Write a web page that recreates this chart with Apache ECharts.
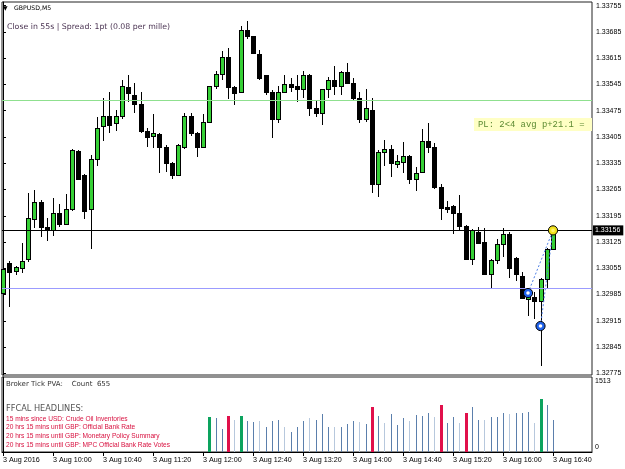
<!DOCTYPE html>
<html>
<head>
<meta charset="utf-8">
<title>GBPUSD,M5</title>
<script src="https://cdn.jsdelivr.net/npm/echarts@6/dist/echarts.min.js"></script>
<style>
  html, body { margin: 0; padding: 0; background: #fff; }
  #chart { width: 625px; height: 469px; }
</style>
</head>
<body>
<div id="chart"></div>
<script>
// GBPUSD M5, 3 Aug 2016, 09:20 .. 16:40 (one candle every 5 min, index 0..88)
const openP = [
  1.32989, 1.33069, 1.33047, 1.33055, 1.33079, 1.33186, 1.33231, 1.33164, 1.33156, 1.33202,
  1.33172, 1.33212, 1.33367, 1.33303, 1.33212, 1.33345, 1.33433, 1.33460, 1.33441, 1.33460,
  1.33537, 1.33518, 1.33492, 1.33422, 1.33407, 1.33412, 1.33377, 1.33335, 1.33303, 1.33377,
  1.33460, 1.33415, 1.33377, 1.33444, 1.33540, 1.33574, 1.33619, 1.33537, 1.33524, 1.33691,
  1.33673, 1.33627, 1.33569, 1.33526, 1.33454, 1.33526, 1.33545, 1.33540, 1.33534, 1.33571,
  1.33481, 1.33470, 1.33532, 1.33558, 1.33540, 1.33579, 1.33550, 1.33510, 1.33454, 1.33478,
  1.33279, 1.33364, 1.33372, 1.33332, 1.33337, 1.33353, 1.33292, 1.33311, 1.33393, 1.33377,
  1.33271, 1.33218, 1.33220, 1.33202, 1.33167, 1.33079, 1.33153, 1.33125, 1.33039, 1.33077,
  1.33119, 1.33146, 1.33082, 1.33034, 1.32973, 1.32978, 1.32968, 1.33026, 1.33106
]
const highP = [
  1.33055, 1.33074, 1.33061, 1.33122, 1.33255, 1.33263, 1.33236, 1.33189, 1.33242, 1.33226,
  1.33252, 1.33372, 1.33369, 1.33305, 1.33356, 1.33457, 1.33508, 1.33526, 1.33478, 1.33558,
  1.33571, 1.33548, 1.33524, 1.33430, 1.33465, 1.33415, 1.33383, 1.33337, 1.33385, 1.33470,
  1.33470, 1.33417, 1.33465, 1.33542, 1.33582, 1.33633, 1.33641, 1.33542, 1.33702, 1.33715,
  1.33675, 1.33638, 1.33571, 1.33529, 1.33542, 1.33571, 1.33563, 1.33571, 1.33582, 1.33574,
  1.33502, 1.33534, 1.33566, 1.33593, 1.33582, 1.33603, 1.33561, 1.33526, 1.33534, 1.33508,
  1.33369, 1.33396, 1.33383, 1.33356, 1.33391, 1.33356, 1.33324, 1.33425, 1.33441, 1.33388,
  1.33279, 1.33234, 1.33223, 1.33250, 1.33170, 1.33159, 1.33164, 1.33162, 1.33079, 1.33133,
  1.33162, 1.33151, 1.33085, 1.33045, 1.33002, 1.32992, 1.33029, 1.33109, 1.33159
]
const lowP = [
  1.32976, 1.32952, 1.33037, 1.33042, 1.33071, 1.33162, 1.33138, 1.33127, 1.33141, 1.33164,
  1.33170, 1.33209, 1.33289, 1.33186, 1.33106, 1.33327, 1.33393, 1.33415, 1.33420, 1.33452,
  1.33497, 1.33468, 1.33415, 1.33377, 1.33375, 1.33308, 1.33311, 1.33292, 1.33300, 1.33372,
  1.33407, 1.33351, 1.33375, 1.33441, 1.33534, 1.33558, 1.33505, 1.33489, 1.33521, 1.33665,
  1.33627, 1.33558, 1.33518, 1.33401, 1.33441, 1.33524, 1.33526, 1.33497, 1.33508, 1.33460,
  1.33457, 1.33438, 1.33510, 1.33516, 1.33516, 1.33548, 1.33500, 1.33441, 1.33444, 1.33255,
  1.33244, 1.33327, 1.33297, 1.33321, 1.33308, 1.33279, 1.33260, 1.33308, 1.33361, 1.33266,
  1.33183, 1.33202, 1.33146, 1.33156, 1.33077, 1.33063, 1.33119, 1.33037, 1.33002, 1.33066,
  1.33085, 1.33029, 1.33021, 1.32973, 1.32928, 1.32920, 1.32795, 1.33002, 1.33103
]
const closeP = [
  1.33053, 1.33045, 1.33058, 1.33074, 1.33189, 1.33231, 1.33164, 1.33156, 1.33202, 1.33172,
  1.33212, 1.33369, 1.33292, 1.33207, 1.33345, 1.33430, 1.33462, 1.33438, 1.33460, 1.33540,
  1.33521, 1.33492, 1.33422, 1.33404, 1.33415, 1.33377, 1.33335, 1.33303, 1.33383, 1.33460,
  1.33415, 1.33377, 1.33444, 1.33540, 1.33574, 1.33617, 1.33537, 1.33521, 1.33691, 1.33673,
  1.33630, 1.33561, 1.33526, 1.33454, 1.33526, 1.33545, 1.33537, 1.33534, 1.33571, 1.33481,
  1.33470, 1.33532, 1.33558, 1.33540, 1.33579, 1.33550, 1.33510, 1.33454, 1.33481, 1.33279,
  1.33364, 1.33372, 1.33335, 1.33340, 1.33353, 1.33292, 1.33308, 1.33393, 1.33377, 1.33271,
  1.33215, 1.33212, 1.33202, 1.33167, 1.33079, 1.33156, 1.33122, 1.33039, 1.33077, 1.33119,
  1.33146, 1.33055, 1.33039, 1.32976, 1.32989, 1.32968, 1.33026, 1.33106, 1.33156
]

// Broker Tick PVA only fills the last bars (from candle 33 on)
const volStart = 33
const volumes = [
  706, 686, 464, 726, 645, 726, 625, 605, 625, 504,
  625, 645, 504, 403, 504, 625, 686, 645, 766, 504,
  504, 504, 565, 625, 605, 565, 908, 726, 585, 766,
  545, 686, 625, 746, 726, 787, 706, 948, 585, 706,
  585, 787, 908, 645, 645, 706, 706, 787, 766, 787,
  787, 807, 585, 1069, 948, 645
]
const climaxUp = [33, 38, 86]
const climaxDown = [36, 59, 70, 74]
const volMax = 1513

const priceTicks = [1.33755, 1.33685, 1.33615, 1.33545, 1.33475, 1.33405, 1.33335,
  1.33265, 1.33195, 1.33125, 1.33055, 1.32985, 1.32915, 1.32845, 1.32775]
const timeTickIdx = [0, 8, 16, 24, 32, 40, 48, 56, 64, 72, 80, 88]
const timeTickLabels = ['3 Aug 2016', '3 Aug 10:00', '3 Aug 10:40', '3 Aug 11:20', '3 Aug 12:00',
  '3 Aug 12:40', '3 Aug 13:20', '3 Aug 14:00', '3 Aug 14:40', '3 Aug 15:20', '3 Aug 16:00', '3 Aug 16:40']

const lastPrice = 1.33156
const greenLevel = 1.33502
const blueLevel = 1.33002
// pattern points (two blue pivots and the yellow current point)
const pivots = [[84, 1.32989], [86, 1.32901]]
const target = [88, 1.33156]

const headlines = [
  '15 mins since USD: Crude Oil Inventories',
  '20 hrs 15 mins until GBP: Official Bank Rate',
  '20 hrs 15 mins until GBP: Monetary Policy Summary',
  '20 hrs 15 mins until GBP: MPC Official Bank Rate Votes'
]

const SANS = '"Liberation Sans", Arial, sans-serif'
const WIDE = '"DejaVu Sans", Verdana, sans-serif'
const MONO = '"Liberation Mono", "DejaVu Sans Mono", monospace'

// 6.25 px per bar, first bar centred at x=3, plot area 2..592
const X_MIN = -0.16
const X_MAX = X_MIN + 590 / 6.25

const candleData = openP.map((o, i) => [i, o, closeP[i], lowP[i], highP[i]])
const volData = volumes.map((v, k) => {
  const i = volStart + k
  const kind = climaxUp.includes(i) ? 1 : (climaxDown.includes(i) ? -1 : 0)
  return [i, v, kind]
})

const chart = echarts.init(document.getElementById('chart'))

const levelLine = (value, color) => ({
  yAxis: value,
  lineStyle: { color, width: 1, type: 'solid' },
  label: { show: false }
})

const option = {
  animation: false,
  backgroundColor: '#fff',
  grid: [
    { left: 2, right: 33, top: 2, height: 373, show: true, borderColor: '#222', borderWidth: 1, backgroundColor: 'transparent' },
    { left: 2, right: 33, top: 377, height: 75, show: true, borderColor: '#222', borderWidth: 1, backgroundColor: 'transparent' }
  ],
  xAxis: [
    { type: 'value', gridIndex: 0, min: X_MIN, max: X_MAX, show: false },
    {
      type: 'value', gridIndex: 1, min: X_MIN, max: X_MAX,
      axisLine: { show: true, lineStyle: { color: '#000' } },
      splitLine: { show: false },
      axisTick: { show: true, customValues: timeTickIdx, length: 4, lineStyle: { color: '#000' } },
      axisLabel: {
        customValues: timeTickIdx,
        formatter: v => timeTickLabels[timeTickIdx.indexOf(v)] || '',
        align: 'left', margin: 5, fontSize: 7.2, fontFamily: SANS, color: '#000'
      }
    }
  ],
  yAxis: [
    {
      type: 'value', gridIndex: 0, position: 'right', min: 1.327705, max: 1.337648,
      axisLine: { show: true, lineStyle: { color: '#000' } },
      splitLine: { show: false },
      axisTick: { show: true, customValues: priceTicks, length: 3, lineStyle: { color: '#000' } },
      axisLabel: {
        customValues: priceTicks,
        formatter: v => v.toFixed(5),
        margin: 4, fontSize: 7, fontFamily: SANS, color: '#000'
      }
    },
    {
      type: 'value', gridIndex: 1, position: 'right', min: 0, max: volMax,
      axisLine: { show: true, lineStyle: { color: '#000' } },
      splitLine: { show: false },
      axisTick: { show: false },
      axisLabel: {
        customValues: [0, volMax],
        formatter: v => (v === 0 ? '{b|0}' : '{t|' + v + '}'),
        margin: 3, fontSize: 7, fontFamily: SANS, color: '#000',
        rich: {
          t: { padding: [9, 0, 0, 0], fontSize: 7, fontFamily: SANS },
          b: { padding: [0, 0, 10, 0], fontSize: 7, fontFamily: SANS }
        }
      }
    }
  ],
  series: [
    {
      type: 'custom', xAxisIndex: 0, yAxisIndex: 0, data: candleData, z: 3,
      encode: { x: 0, y: [1, 2, 3, 4] },
      renderItem (params, api) {
        const i = api.value(0)
        const o = api.coord([i, api.value(1)])
        const c = api.coord([i, api.value(2)])
        const l = api.coord([i, api.value(3)])
        const h = api.coord([i, api.value(4)])
        const cx = Math.round(o[0])
        const top = Math.round(Math.min(o[1], c[1]))
        const bot = Math.round(Math.max(o[1], c[1]))
        const up = api.value(2) > api.value(1)
        const children = [
          { type: 'rect', shape: { x: cx, y: Math.round(h[1]), width: 1, height: Math.max(Math.round(l[1]) - Math.round(h[1]), 1) }, style: { fill: '#000' } },
          { type: 'rect', shape: { x: cx - 2, y: top, width: 5, height: Math.max(bot - top, 1) + 1 }, style: { fill: '#000' } }
        ]
        if (up && bot - top > 1) {
          children.push({ type: 'rect', shape: { x: cx - 1, y: top + 1, width: 3, height: bot - top - 1 }, style: { fill: '#36d036' } })
        }
        return { type: 'group', children }
      }
    },
    {
      // dotted leg from the first pivot, carries the horizontal levels too
      type: 'line', xAxisIndex: 0, yAxisIndex: 0, data: [pivots[0], target], z: 4,
      symbol: 'none', silent: true,
      lineStyle: { color: '#4f7fe6', width: 1, type: [2, 2] },
      markLine: {
        silent: true, symbol: ['none', 'none'], animation: false, precision: 5,
        data: [
          levelLine(greenLevel, '#8fe08f'),
          levelLine(blueLevel, '#9b9bff'),
          {
            yAxis: lastPrice,
            lineStyle: { color: '#000', width: 1, type: 'solid' },
            label: {
              show: true, position: 'end', distance: 1, formatter: lastPrice.toFixed(5),
              color: '#fff', backgroundColor: '#000', padding: [2, 3, 1, 2],
              fontSize: 7, fontFamily: SANS
            }
          }
        ]
      }
    },
    {
      type: 'line', xAxisIndex: 0, yAxisIndex: 0, data: [pivots[1], target], z: 4,
      symbol: 'none', silent: true,
      lineStyle: { color: '#4f7fe6', width: 1, type: [2, 2] }
    },
    {
      type: 'custom', xAxisIndex: 0, yAxisIndex: 0, z: 5,
      data: pivots.map(p => [p[0], p[1], 0]).concat([[target[0], target[1], 1]]),
      encode: { x: 0, y: 1 },
      renderItem (params, api) {
        const p = api.coord([api.value(0), api.value(1)])
        const yellow = api.value(2) === 1
        return {
          type: 'group',
          children: [
            { type: 'circle', shape: { cx: p[0], cy: p[1], r: 4.6 }, style: { fill: yellow ? '#f2e21c' : '#1f62ec', stroke: '#000', lineWidth: 1 } },
            { type: 'circle', shape: { cx: p[0], cy: p[1], r: 1.8 }, style: { fill: yellow ? '#fff36a' : '#ffffff' } }
          ]
        }
      }
    },
    {
      type: 'custom', xAxisIndex: 1, yAxisIndex: 1, data: volData, z: 3,
      encode: { x: 0, y: 1 },
      renderItem (params, api) {
        const i = api.value(0)
        const top = api.coord([i, api.value(1)])
        const base = api.coord([i, 0])
        const kind = api.value(2)
        let color = i % 4 === 1 ? '#b7c8dd' : '#5b7fac'
        let w = 1
        if (kind === 1) { color = '#0ca35e'; w = 3 }
        if (kind === -1) { color = '#e1104b'; w = 3 }
        const x = Math.round(top[0]) - Math.floor(w / 2)
        return { type: 'rect', shape: { x, y: Math.round(top[1]), width: w, height: Math.round(base[1]) - Math.round(top[1]) }, style: { fill: color } }
      }
    }
  ],
  graphic: [
    { type: 'text', x: 3, y: 8, style: { text: '▼', fill: '#000', font: '6px ' + WIDE, verticalAlign: 'middle' } },
    { type: 'text', x: 14, y: 8, style: { text: 'GBPUSD,M5', fill: '#000', font: '6.2px ' + WIDE, verticalAlign: 'middle' } },
    { type: 'text', x: 7, y: 27, style: { text: 'Close in 55s | Spread: 1pt (0.08 per mille)', fill: '#4a3352', font: '7.8px ' + WIDE, verticalAlign: 'middle' } },
    { type: 'rect', shape: { x: 474, y: 118, width: 118, height: 13 }, style: { fill: '#ffffc4' }, z: 10 },
    { type: 'text', x: 478, y: 124.5, z: 11, style: { text: 'PL: 2<4 avg p+21.1 =', fill: '#5c8a32', font: '8.9px ' + MONO, verticalAlign: 'middle' } },
    { type: 'text', x: 6, y: 384.5, style: { text: 'Broker Tick PVA:    Count  655', fill: '#333', font: '7px ' + WIDE, verticalAlign: 'middle' } },
    { type: 'text', x: 6, y: 409, style: { text: 'FFCAL HEADLINES:', fill: '#555', font: '8.2px ' + WIDE, verticalAlign: 'middle' } },
    ...headlines.map((t, k) => ({
      type: 'text', x: 6, y: 419 + k * 8.6,
      style: { text: t, fill: '#d8103f', font: '6.6px ' + SANS, verticalAlign: 'middle' }
    }))
  ]
}

chart.setOption(option)
</script>
</body>
</html>
